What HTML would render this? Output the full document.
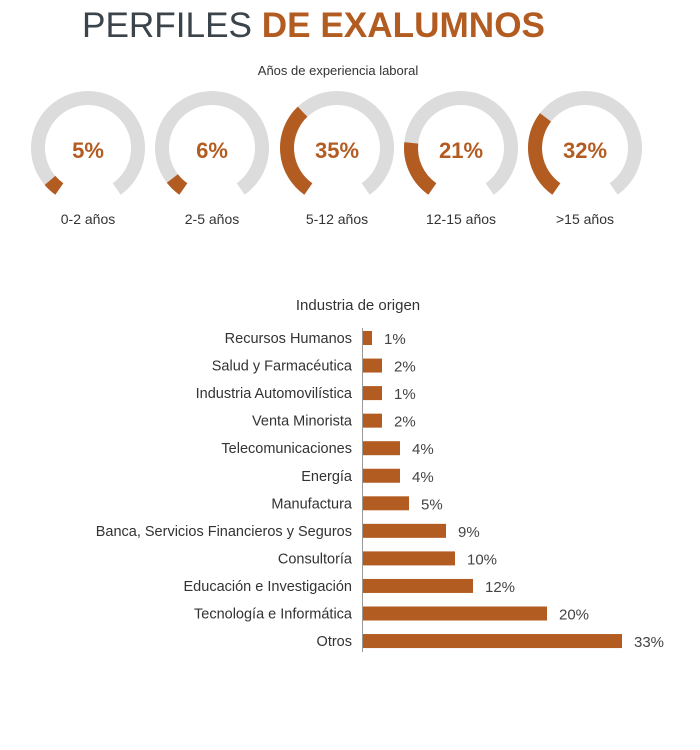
<!DOCTYPE html>
<html><head><meta charset="utf-8"><style>
body{margin:0;width:700px;height:745px;background:#fff;font-family:"Liberation Sans",sans-serif;overflow:hidden}
</style></head><body>
<svg id="s" width="700" height="745" xmlns="http://www.w3.org/2000/svg" font-family="Liberation Sans, sans-serif">
<text x="82" y="37" font-size="35" fill="#3b434b" textLength="463" lengthAdjust="spacingAndGlyphs">PERFILES <tspan font-weight="bold" fill="#b35c22">DE EXALUMNOS</tspan></text>
<text x="338" y="75" font-size="13" fill="#333" text-anchor="middle">Años de experiencia laboral</text>
<text x="358" y="310" font-size="15" fill="#333" text-anchor="middle">Industria de origen</text>
<line x1="362.5" y1="328" x2="362.5" y2="652" stroke="#999" stroke-width="1"/>
</svg>
<script>
var s=document.getElementById('s'),NS='http://www.w3.org/2000/svg';
function el(t,a,txt){var e=document.createElementNS(NS,t);for(var k in a)e.setAttribute(k,a[k]);if(txt)e.textContent=txt;s.appendChild(e);return e;}
function pt(cx,cy,r,a){a=a*Math.PI/180;return [cx+r*Math.sin(a),cy-r*Math.cos(a)];}
function arc(cx,cy,r,a0,a1,c){var p=pt(cx,cy,r,a0),q=pt(cx,cy,r,a1);el('path',{d:'M'+p[0]+' '+p[1]+' A'+r+' '+r+' 0 '+((a1-a0)>180?1:0)+' 1 '+q[0]+' '+q[1],fill:'none',stroke:c,'stroke-width':14});}
var d=[[88,5,'0-2 años'],[212,6,'2-5 años'],[337,35,'5-12 años'],[461,21,'12-15 años'],[585,32,'>15 años']];
d.forEach(function(x){var cx=x[0],cy=148,r=50,a0=215,a1=505;arc(cx,cy,r,a0,a1,'#dcdcdc');arc(cx,cy,r,a0,a0+290*x[1]/100,'#b35c22');
el('text',{x:cx,y:cy+10,'font-size':22,'font-weight':'bold',fill:'#b35c22','text-anchor':'middle'},x[1]+'%');
el('text',{x:cx,y:224,'font-size':14,fill:'#333','text-anchor':'middle'},x[2]);});
var b=[['Recursos Humanos',1,372],['Salud y Farmacéutica',2,382],['Industria Automovilística',1,382],['Venta Minorista',2,382],['Telecomunicaciones',4,400],['Energía',4,400],['Manufactura',5,409],['Banca, Servicios Financieros y Seguros',9,446],['Consultoría',10,455],['Educación e Investigación',12,473],['Tecnología e Informática',20,547],['Otros',33,622]];
b.forEach(function(x,i){var cy=338+i*27.55;
el('rect',{x:363,y:cy-7,width:x[2]-363,height:14,fill:'#b35c22'});
el('text',{x:352,y:cy+5,'font-size':14.5,fill:'#333','text-anchor':'end'},x[0]);
el('text',{x:x[2]+12,y:cy+6,'font-size':15,fill:'#444'},x[1]+'%');});
</script>
</body></html>
